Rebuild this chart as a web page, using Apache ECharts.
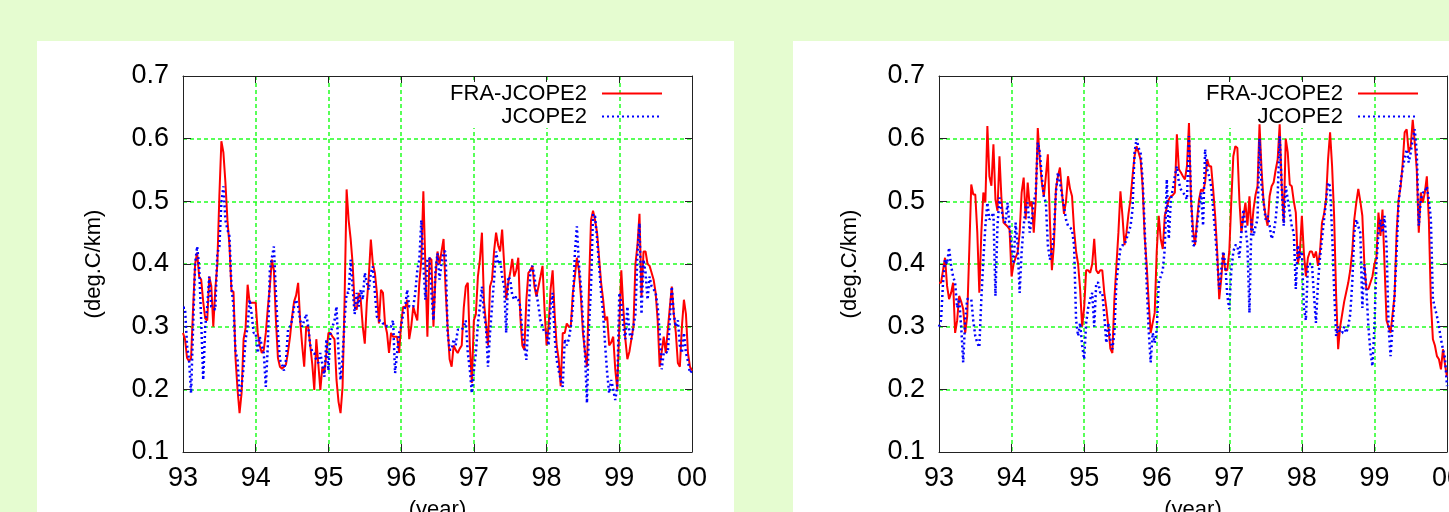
<!DOCTYPE html>
<html><head><meta charset="utf-8">
<script src="https://cdn.jsdelivr.net/npm/echarts@6/dist/echarts.min.js"></script>
<style>
html,body{margin:0;padding:0;width:1449px;height:512px;overflow:hidden;background:#e5fcd0;}
.panel{position:absolute;background:#fff;}
#p1{left:37px;top:41px;width:697px;height:471px;}
#p2{left:793px;top:41px;width:656px;height:471px;}
#chart{position:absolute;left:0;top:0;width:1449px;height:512px;}
</style></head><body>
<div class="panel" id="p1"></div><div class="panel" id="p2"></div>
<div id="chart"></div>
<script>
// ---- data ----
const START_YEAR = 93;
const END_YEAR = 100;
const STEPS_PER_YEAR = 36;
const xTickLabels = ['93','94','95','96','97','98','99','00'];
const seriesNames = ['FRA-JCOPE2', 'JCOPE2'];
const yAxisName = '(deg.C/km)';
const xAxisName = '(year)';

// left panel
const fraLeft = [
0.29,0.28,0.25,0.245,0.25,0.33,0.40,0.418,0.38,0.375,0.34,0.313,0.31,0.38,0.365,0.30,0.36,0.40,0.508,0.596,0.578,0.53,0.47,0.43,0.356,0.356,0.25,0.20,0.162,0.194,0.28,0.298,0.367,0.338,0.338,0.338,
0.338,0.29,0.27,0.258,0.263,0.29,0.33,0.364,0.407,0.39,0.31,0.25,0.236,0.233,0.236,0.24,0.26,0.284,0.316,0.34,0.35,0.37,0.31,0.27,0.236,0.30,0.30,0.27,0.24,0.199,0.28,0.24,0.199,0.236,0.226,0.258,
0.29,0.29,0.284,0.28,0.215,0.18,0.162,0.204,0.343,0.519,0.47,0.44,0.40,0.332,0.327,0.354,0.343,0.30,0.273,0.338,0.38,0.439,0.40,0.386,0.354,0.305,0.359,0.354,0.305,0.29,0.258,0.29,0.284,0.284,0.284,0.258,
0.305,0.332,0.33,0.343,0.28,0.30,0.332,0.32,0.31,0.37,0.407,0.516,0.396,0.284,0.41,0.407,0.30,0.38,0.42,0.40,0.42,0.44,0.36,0.30,0.248,0.236,0.27,0.263,0.258,0.265,0.27,0.33,0.364,0.37,0.27,0.21,
0.31,0.32,0.38,0.407,0.45,0.34,0.305,0.27,0.364,0.375,0.42,0.45,0.43,0.42,0.455,0.40,0.343,0.37,0.386,0.408,0.38,0.39,0.41,0.316,0.27,0.263,0.343,0.386,0.39,0.397,0.364,0.348,0.364,0.38,0.397,0.327,
0.27,0.30,0.36,0.39,0.32,0.27,0.248,0.205,0.29,0.29,0.305,0.30,0.30,0.354,0.38,0.41,0.39,0.348,0.29,0.26,0.236,0.364,0.47,0.485,0.47,0.45,0.41,0.37,0.343,0.31,0.316,0.27,0.275,0.284,0.232,0.20,
0.30,0.39,0.33,0.28,0.248,0.26,0.28,0.30,0.40,0.43,0.48,0.348,0.42,0.42,0.40,0.397,0.386,0.375,0.354,0.31,0.236,0.26,0.284,0.258,0.295,0.33,0.364,0.32,0.29,0.242,0.236,0.30,0.343,0.32,0.258,0.236,0.23
];
const jcopeLeft = [
0.33,0.33,0.27,0.247,0.194,0.30,0.40,0.428,0.396,0.31,0.215,0.30,0.332,0.38,0.332,0.33,0.327,0.417,0.428,0.498,0.524,0.47,0.455,0.444,0.364,0.332,0.26,0.247,0.19,0.204,0.236,0.28,0.30,0.343,0.32,0.29,
0.29,0.258,0.284,0.27,0.258,0.204,0.27,0.39,0.41,0.428,0.354,0.29,0.247,0.24,0.23,0.247,0.295,0.30,0.31,0.332,0.343,0.332,0.31,0.30,0.31,0.32,0.30,0.27,0.26,0.258,0.247,0.242,0.258,0.24,0.22,0.28,
0.23,0.29,0.30,0.31,0.332,0.258,0.215,0.25,0.31,0.354,0.354,0.407,0.36,0.32,0.354,0.332,0.359,0.343,0.386,0.37,0.359,0.386,0.396,0.354,0.316,0.31,0.31,0.305,0.305,0.30,0.30,0.30,0.31,0.226,0.258,0.29,
0.30,0.32,0.332,0.359,0.332,0.332,0.332,0.354,0.39,0.407,0.47,0.40,0.343,0.407,0.41,0.354,0.31,0.39,0.417,0.375,0.40,0.42,0.42,0.29,0.263,0.263,0.28,0.27,0.295,0.295,0.295,0.30,0.31,0.258,0.232,0.194,
0.23,0.258,0.305,0.332,0.364,0.32,0.30,0.236,0.29,0.332,0.375,0.42,0.40,0.407,0.38,0.364,0.29,0.38,0.375,0.35,0.343,0.348,0.343,0.332,0.29,0.27,0.247,0.31,0.39,0.397,0.38,0.354,0.332,0.31,0.30,0.29,
0.29,0.27,0.332,0.354,0.284,0.247,0.23,0.215,0.204,0.28,0.27,0.28,0.30,0.332,0.417,0.46,0.40,0.364,0.31,0.258,0.178,0.30,0.364,0.48,0.476,0.44,0.397,0.354,0.32,0.27,0.226,0.194,0.215,0.20,0.183,0.204,
0.354,0.338,0.30,0.28,0.332,0.29,0.28,0.30,0.32,0.417,0.465,0.32,0.407,0.386,0.343,0.38,0.364,0.36,0.354,0.332,0.29,0.232,0.258,0.26,0.258,0.31,0.364,0.32,0.30,0.31,0.27,0.258,0.29,0.258,0.245,0.226,0.23
];
// right panel
const fraRight = [
0.37,0.37,0.39,0.41,0.365,0.344,0.354,0.37,0.29,0.31,0.349,0.34,0.328,0.29,0.317,0.42,0.527,0.511,0.511,0.45,0.354,0.45,0.514,0.498,0.62,0.54,0.525,0.591,0.503,0.485,0.572,0.503,0.466,0.463,0.46,0.455,
0.38,0.40,0.41,0.418,0.45,0.514,0.538,0.471,0.53,0.492,0.50,0.45,0.503,0.617,0.567,0.53,0.508,0.54,0.575,0.47,0.39,0.43,0.52,0.54,0.554,0.514,0.48,0.50,0.54,0.52,0.508,0.455,0.42,0.40,0.36,0.30,
0.33,0.39,0.39,0.386,0.40,0.44,0.39,0.385,0.39,0.39,0.354,0.33,0.30,0.265,0.258,0.344,0.397,0.45,0.516,0.477,0.43,0.45,0.48,0.503,0.54,0.572,0.588,0.578,0.567,0.524,0.445,0.40,0.34,0.29,0.306,0.322,
0.42,0.477,0.44,0.424,0.477,0.49,0.503,0.508,0.51,0.514,0.607,0.551,0.546,0.54,0.535,0.556,0.625,0.503,0.455,0.43,0.47,0.503,0.519,0.516,0.53,0.567,0.556,0.556,0.519,0.477,0.42,0.344,0.376,0.418,0.39,0.39,
0.42,0.50,0.572,0.588,0.585,0.503,0.45,0.475,0.498,0.461,0.508,0.45,0.487,0.51,0.524,0.623,0.551,0.50,0.477,0.461,0.508,0.524,0.53,0.55,0.567,0.623,0.524,0.466,0.60,0.578,0.527,0.524,0.50,0.482,0.40,0.418,
0.477,0.418,0.38,0.41,0.42,0.42,0.41,0.42,0.397,0.42,0.466,0.48,0.503,0.567,0.61,0.556,0.477,0.35,0.264,0.30,0.32,0.34,0.355,0.37,0.39,0.42,0.471,0.498,0.52,0.50,0.477,0.40,0.36,0.36,0.37,0.38,
0.40,0.41,0.482,0.445,0.487,0.40,0.31,0.30,0.29,0.32,0.35,0.45,0.503,0.524,0.56,0.61,0.615,0.578,0.588,0.63,0.594,0.551,0.45,0.514,0.498,0.514,0.54,0.47,0.34,0.28,0.27,0.253,0.248,0.232,0.264,0.24,0.22
];
const jcopeRight = [
0.30,0.31,0.37,0.407,0.40,0.426,0.397,0.38,0.37,0.33,0.344,0.30,0.243,0.312,0.344,0.344,0.344,0.31,0.285,0.274,0.267,0.344,0.407,0.46,0.498,0.471,0.475,0.482,0.349,0.461,0.506,0.487,0.47,0.466,0.498,0.46,
0.43,0.40,0.466,0.43,0.354,0.42,0.461,0.49,0.498,0.45,0.47,0.498,0.514,0.594,0.578,0.54,0.508,0.498,0.43,0.407,0.42,0.45,0.514,0.546,0.53,0.51,0.492,0.471,0.461,0.458,0.455,0.43,0.31,0.285,0.306,0.27,
0.248,0.306,0.33,0.344,0.354,0.30,0.37,0.37,0.354,0.354,0.317,0.274,0.306,0.28,0.264,0.29,0.37,0.40,0.424,0.43,0.43,0.44,0.45,0.46,0.487,0.578,0.60,0.585,0.578,0.535,0.461,0.37,0.295,0.243,0.29,0.274,
0.295,0.37,0.38,0.39,0.424,0.535,0.44,0.503,0.52,0.54,0.556,0.53,0.519,0.514,0.51,0.503,0.604,0.514,0.43,0.43,0.46,0.492,0.514,0.461,0.583,0.551,0.54,0.524,0.487,0.45,0.407,0.36,0.39,0.42,0.40,0.35,
0.328,0.39,0.42,0.43,0.43,0.41,0.45,0.487,0.46,0.43,0.322,0.471,0.445,0.46,0.471,0.60,0.524,0.50,0.471,0.477,0.461,0.44,0.45,0.471,0.508,0.604,0.524,0.461,0.524,0.503,0.482,0.46,0.45,0.36,0.43,0.41,
0.42,0.33,0.31,0.40,0.40,0.40,0.35,0.306,0.37,0.41,0.44,0.471,0.50,0.53,0.524,0.45,0.36,0.285,0.30,0.29,0.29,0.30,0.29,0.30,0.32,0.37,0.45,0.471,0.46,0.45,0.33,0.40,0.36,0.30,0.26,0.237,
0.30,0.40,0.45,0.471,0.45,0.477,0.43,0.30,0.253,0.30,0.35,0.42,0.498,0.53,0.551,0.57,0.583,0.562,0.578,0.60,0.615,0.578,0.461,0.503,0.514,0.514,0.524,0.503,0.471,0.344,0.33,0.317,0.30,0.28,0.264,0.25,0.205
];

// ---- chart ----
const FONT = "'Liberation Sans', Arial, Helvetica, sans-serif";
const GRID_GREEN = '#22ff22';
const AXIS_COLOR = '#222';
const RED = '#ff0000', BLUE = '#0000ff';

function toPairs(arr) { return arr.map((v, i) => [START_YEAR + i / STEPS_PER_YEAR, v]); }

const gridBoxes = [
  { left: 183, top: 76, width: 509, height: 376 },
  { left: 939, top: 76, width: 508, height: 376 }
];
const legendRight = [786, 30];

const gridLineStyle = { color: GRID_GREEN, type: [4, 3], width: 1.5, opacity: 1 };

const xAxes = [], yAxes = [], legends = [], series = [];
gridBoxes.forEach((g, gi) => {
  xAxes.push({
    type: 'value', gridIndex: gi, position: 'bottom', min: START_YEAR, max: END_YEAR, interval: 1,
    axisLine: { show: true, onZero: false, lineStyle: { color: AXIS_COLOR, width: 1 } },
    axisTick: { show: true, inside: true, length: 8, lineStyle: { color: AXIS_COLOR } },
    axisLabel: { color: '#000', fontSize: 27, fontFamily: FONT, margin: 13,
      formatter: v => xTickLabels[Math.round(v - START_YEAR)] },
    splitLine: { show: true, showMinLine: false, showMaxLine: false, lineStyle: gridLineStyle },
    name: xAxisName, nameLocation: 'middle', nameGap: 47,
    nameTextStyle: { fontSize: 22, color: '#000', fontFamily: FONT }
  });
  xAxes.push({
    type: 'value', gridIndex: gi, position: 'top', min: START_YEAR, max: END_YEAR, interval: 1,
    axisLine: { show: true, onZero: false, lineStyle: { color: AXIS_COLOR, width: 1 } },
    axisTick: { show: true, inside: true, length: 7, lineStyle: { color: AXIS_COLOR } },
    axisLabel: { show: false }, splitLine: { show: false }, splitArea: { show: false }
  });
  yAxes.push({
    type: 'value', gridIndex: gi, position: 'left', min: 0.1, max: 0.7, interval: 0.1,
    axisLine: { show: true, onZero: false, lineStyle: { color: AXIS_COLOR, width: 1 } },
    axisTick: { show: true, inside: true, length: 8, lineStyle: { color: AXIS_COLOR } },
    axisLabel: { color: '#000', fontSize: 27, fontFamily: FONT, margin: 14, formatter: v => v.toFixed(1) },
    splitLine: { show: true, showMinLine: false, showMaxLine: false, lineStyle: gridLineStyle },
    name: yAxisName, nameLocation: 'middle', nameGap: 78, nameRotate: 90,
    nameTextStyle: { fontSize: 22, color: '#000', fontFamily: FONT }
  });
  yAxes.push({
    type: 'value', gridIndex: gi, position: 'right', min: 0.1, max: 0.7, interval: 0.1,
    axisLine: { show: true, onZero: false, lineStyle: { color: AXIS_COLOR, width: 1 } },
    axisTick: { show: true, inside: true, length: 7, lineStyle: { color: AXIS_COLOR } },
    axisLabel: { show: false }, splitLine: { show: false }, splitArea: { show: false }
  });
  legends.push({
    orient: 'vertical', right: legendRight[gi], top: 82, align: 'right', padding: 0,
    itemWidth: 60, itemHeight: 10, itemGap: 0, z: 1, selectedMode: false,
    itemStyle: { opacity: 0, borderWidth: 0 },
    data: seriesNames,
    textStyle: { fontSize: 22, color: '#000', fontFamily: FONT, lineHeight: 23,
      backgroundColor: '#fff', padding: [0, 10, 0, 0], width: 140 }
  });
});

const panelData = [[fraLeft, jcopeLeft], [fraRight, jcopeRight]];
panelData.forEach((pair, gi) => {
  series.push({
    type: 'line', name: seriesNames[0], xAxisIndex: gi * 2, yAxisIndex: gi * 2,
    data: toPairs(pair[0]), symbol: 'none', z: 2,
    lineStyle: { color: RED, width: 2 }, itemStyle: { color: RED }
  });
  series.push({
    type: 'line', name: seriesNames[1], xAxisIndex: gi * 2, yAxisIndex: gi * 2,
    data: toPairs(pair[1]), symbol: 'none', z: 3,
    lineStyle: { color: BLUE, width: 2.5, type: [2, 3] }, itemStyle: { color: BLUE }
  });
});

const chart = echarts.init(document.getElementById('chart'), null, { renderer: 'canvas' });
chart.setOption({
  animation: false,
  backgroundColor: 'transparent',
  grid: gridBoxes.map(g => Object.assign({ containLabel: false, outerBoundsMode: 'none', show: false }, g)),
  xAxis: xAxes, yAxis: yAxes, legend: legends, series: series
});
</script>
</body></html>
